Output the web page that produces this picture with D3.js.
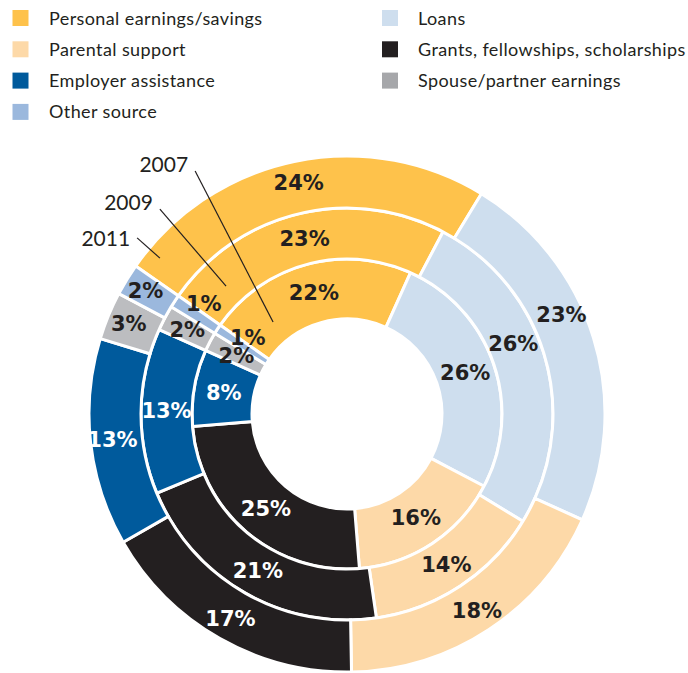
<!DOCTYPE html>
<meta charset="utf-8">
<head>
<title>Sources of support</title>
<script src="https://cdn.jsdelivr.net/npm/d3@7"></script>
<style>
  body { margin: 0; background: #fff; }
  .legend text { font-family: Lato, sans-serif; font-size: 18px; letter-spacing: 0.4px; fill: #231f20; }
  .pct { font-family: "DejaVu Sans", sans-serif; font-weight: bold; font-size: 21px; text-anchor: middle; dominant-baseline: central; }
  .year { font-family: Lato, sans-serif; font-size: 21px; fill: #231f20; text-anchor: end; }
</style>
</head>
<body>
<div id="chart"></div>
<script>
// categories in drawing order (clockwise)
var categories = ["Personal earnings/savings", "Loans", "Parental support",
  "Grants, fellowships, scholarships", "Employer assistance",
  "Spouse/partner earnings", "Other source"];
var years = ["2007", "2009", "2011"];   // inner -> outer ring
var values2007 = [22, 26, 16, 25, 8, 2, 1];
var values2009 = [23, 26, 14, 21, 13, 2, 1];
var values2011 = [24, 23, 18, 17, 13, 3, 2];
// legend is laid out in two columns
var legendOrder = ["Personal earnings/savings", "Loans", "Parental support",
  "Grants, fellowships, scholarships", "Employer assistance",
  "Spouse/partner earnings", "Other source"];

var colors = {
  "Personal earnings/savings": "#fec24b",
  "Loans": "#cedeee",
  "Parental support": "#fdd9a8",
  "Grants, fellowships, scholarships": "#231f20",
  "Employer assistance": "#005a9c",
  "Spouse/partner earnings": "#bcbdc0",
  "Other source": "#9bb8dd"
};
var legendColors = { "Spouse/partner earnings": "#a6a7aa" };
var whiteText = ["Grants, fellowships, scholarships", "Employer assistance"];

var width = 688, height = 673;
var cx = 347, cy = 414;
var ringEdges = [95, 155, 206, 258];
var startAngle = -55 * Math.PI / 180;
var deg = Math.PI / 180;

var svg = d3.select("#chart").append("svg")
    .attr("width", width)
    .attr("height", height);

// legend
var legend = svg.append("g").attr("class", "legend");
legendOrder.forEach(function(name, i) {
  var col = i % 2, row = Math.floor(i / 2);
  var g = legend.append("g")
      .attr("transform", "translate(" + (col ? 382 : 12.5) + "," + (10 + row * 31.3) + ")");
  g.append("rect")
      .attr("width", 16).attr("height", 16)
      .attr("fill", legendColors[name] || colors[name]);
  g.append("text")
      .attr("x", col ? 36 : 36.5)
      .attr("y", 14.5)
      .text(name);
});

// rings
var pie = d3.pie()
    .sort(null)
    .startAngle(startAngle)
    .endAngle(startAngle + 2 * Math.PI)
    .value(function(d) { return d.value; });

var chart = svg.append("g").attr("transform", "translate(" + cx + "," + cy + ")");
var series = [values2007, values2009, values2011];

// where the label sits along its slice: centre, except the thinnest slices
// are pushed past their end and the loans labels of the outer rings ride higher
function labelAngle(d, ri) {
  var mid = (d.startAngle + d.endAngle) / 2;
  if (d.data.value <= 1) return d.endAngle + 2.5 * deg;
  if (d.data.name === "Loans" && ri > 0) return mid - 7.5 * deg;
  return mid;
}

series.forEach(function(vals, ri) {
  var arc = d3.arc()
      .innerRadius(ringEdges[ri])
      .outerRadius(ringEdges[ri + 1]);
  var labelR = (ringEdges[ri] + ringEdges[ri + 1]) / 2 + (ri === 2 ? 4 : 0);
  var arcs = pie(vals.map(function(v, i) { return { name: categories[i], value: v }; }));
  var ring = chart.append("g").attr("class", "ring-" + years[ri]);
  ring.selectAll("path")
      .data(arcs)
      .enter().append("path")
      .attr("d", arc)
      .attr("fill", function(d) { return colors[d.data.name]; })
      .attr("stroke", "#fff")
      .attr("stroke-width", 3)
      .attr("stroke-linejoin", "miter");
  ring.selectAll("text")
      .data(arcs)
      .enter().append("text")
      .attr("class", "pct")
      .attr("transform", function(d) {
        var a = labelAngle(d, ri);
        return "translate(" + (labelR * Math.sin(a)) + "," + (-labelR * Math.cos(a)) + ")";
      })
      .attr("fill", function(d) { return whiteText.indexOf(d.data.name) >= 0 ? "#fff" : "#231f20"; })
      .text(function(d) { return d.data.value + "%"; });
});

// year call-outs: polar [angle deg, radius] for line start and end
function polar(a, r) {
  var t = a * deg;
  return [r * Math.sin(t), -r * Math.cos(t)];
}
var callouts = [
  { from: [-32, 286.6], to: [-38.8, 118] },
  { from: [-42.4, 277.5], to: [-43.4, 176] },
  { from: [-50, 274], to: [-50.2, 243.5] }
];
callouts.forEach(function(c, i) {
  var p0 = polar(c.from[0], c.from[1]), p1 = polar(c.to[0], c.to[1]);
  chart.append("line")
      .attr("x1", p0[0]).attr("y1", p0[1])
      .attr("x2", p1[0]).attr("y2", p1[1])
      .attr("stroke", "#231f20")
      .attr("stroke-width", 1.2);
  chart.append("text")
      .attr("class", "year")
      .attr("x", p0[0] - 7)
      .attr("y", p0[1] + (i === 2 ? 8 : 1))
      .text(years[i]);
});
</script>
</body>
</html>
